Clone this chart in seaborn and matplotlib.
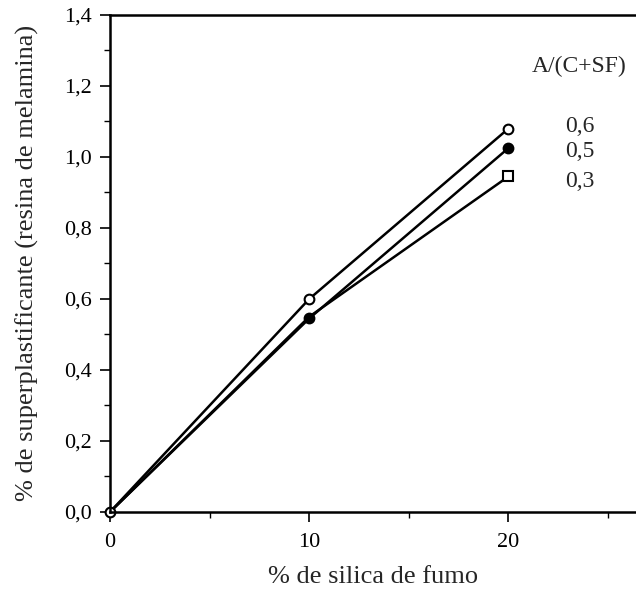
import matplotlib
matplotlib.use("Agg")
import matplotlib.pyplot as plt
import seaborn as sns
import pandas as pd
from matplotlib.ticker import MultipleLocator, FuncFormatter

sns.set_style("white")
plt.rcParams['font.family'] = ['Liberation Serif', 'DejaVu Serif']

silica = [0, 10, 20]
sp_06 = [0.0, 0.60, 1.08]
sp_05 = [0.0, 0.545, 1.025]
sp_03 = [0.0, 0.55, 0.945]
series_labels = ["0,6", "0,5", "0,3"]
legend_title = "A/(C+SF)"

df = pd.concat([
    pd.DataFrame({"x": silica, "y": sp_06, "s": series_labels[0]}),
    pd.DataFrame({"x": silica, "y": sp_05, "s": series_labels[1]}),
    pd.DataFrame({"x": silica, "y": sp_03, "s": series_labels[2]}),
])

fig = plt.figure(figsize=(6.36, 5.96), dpi=100)
ax = fig.add_axes([0.173, 0.141, 0.827, 0.834])

styles = {
    "0,6": dict(marker="o", mfc="white", every=[0, 1, 2]),
    "0,5": dict(marker="o", mfc="black", every=[1, 2]),
    "0,3": dict(marker="s", mfc="white", every=[2]),
}
for lab in ["0,3", "0,5", "0,6"]:
    sub = df[df["s"] == lab]
    st = styles[lab]
    sns.lineplot(data=sub, x="x", y="y", ax=ax, color="black", lw=1.8,
                 marker=st["marker"], markersize=7, markevery=st["every"],
                 markerfacecolor=st["mfc"], markeredgecolor="black",
                 markeredgewidth=1.5, clip_on=False, legend=False)

# labels at end of lines
ax.text(23.55, 1.255, legend_title, fontsize=17, ha="center", va="center")
label_y = [1.085, 1.015, 0.93]
for lab, yy in zip(series_labels, label_y):
    ax.text(23.6, yy, lab, fontsize=17, ha="center", va="center")

ax.set_xlim(0, 26.4)
ax.set_ylim(0, 1.4)
ax.xaxis.set_major_locator(MultipleLocator(10))
ax.xaxis.set_minor_locator(MultipleLocator(5))
ax.yaxis.set_major_locator(MultipleLocator(0.2))
ax.yaxis.set_minor_locator(MultipleLocator(0.1))
ax.yaxis.set_major_formatter(FuncFormatter(lambda v, p: f"{v:.1f}".replace(".", ",")))
ax.tick_params(axis="both", which="major", direction="out", length=7, width=1.2,
               labelsize=16, color="black", labelcolor="black", bottom=True, left=True)
ax.tick_params(axis="y", which="major", pad=6)
ax.tick_params(axis="x", which="major", pad=8)
ax.tick_params(axis="both", which="minor", direction="out", length=4, width=1.0,
               color="black", bottom=True, left=True)
for side in ["left", "bottom", "top"]:
    ax.spines[side].set_color("black")
    ax.spines[side].set_linewidth(1.8)
ax.spines["right"].set_visible(False)

ax.set_xlabel("% de silica de fumo", fontsize=19, labelpad=10)
ax.set_ylabel("% de superplastificante (resina de melamina)", fontsize=19, labelpad=18)

fig.savefig("out.png", dpi=100)
